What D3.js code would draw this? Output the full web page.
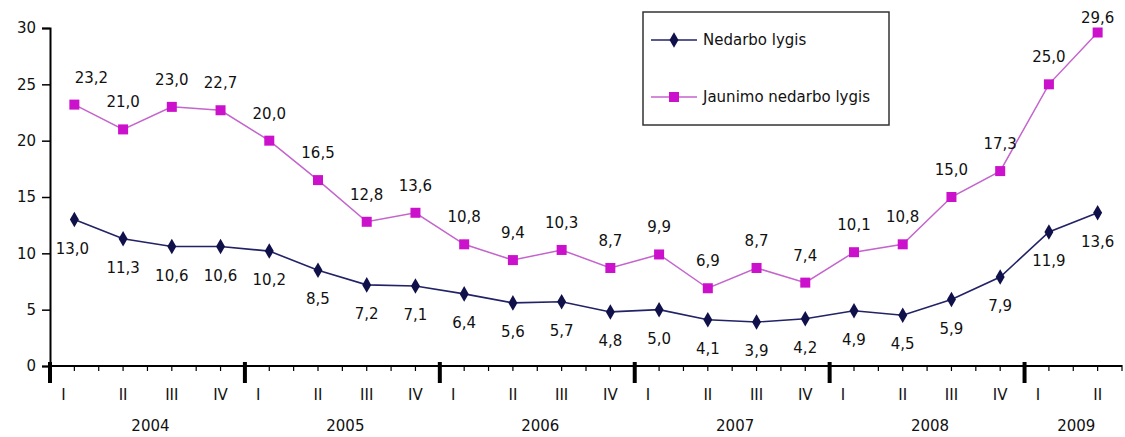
<!DOCTYPE html>
<html>
<head>
<meta charset="utf-8">
<script src="https://cdn.jsdelivr.net/npm/d3@7"></script>
<style>
  body { margin: 0; background: #fff; }
  svg { font-family: "DejaVu Sans", "Liberation Sans", Arial, sans-serif; }
</style>
</head>
<body>
<div id="chart"></div>
<script>
// Data
const years = ['2004', '2005', '2006', '2007', '2008', '2009'];
const quarters = [
  '2004-I','2004-II','2004-III','2004-IV',
  '2005-I','2005-II','2005-III','2005-IV',
  '2006-I','2006-II','2006-III','2006-IV',
  '2007-I','2007-II','2007-III','2007-IV',
  '2008-I','2008-II','2008-III','2008-IV',
  '2009-I','2009-II'
];
const nedarbo = [13.0, 11.3, 10.6, 10.6, 10.2, 8.5, 7.2, 7.1, 6.4, 5.6, 5.7, 4.8, 5.0, 4.1, 3.9, 4.2, 4.9, 4.5, 5.9, 7.9, 11.9, 13.6];
const jaunimo = [23.2, 21.0, 23.0, 22.7, 20.0, 16.5, 12.8, 13.6, 10.8, 9.4, 10.3, 8.7, 9.9, 6.9, 8.7, 7.4, 10.1, 10.8, 15.0, 17.3, 25.0, 29.6];
const yTicks = [0, 5, 10, 15, 20, 25, 30];
const seriesNames = ['Nedarbo lygis', 'Jaunimo nedarbo lygis'];

const width = 1125;
const height = 437;
const plotLeft = 50, plotRight = 1122, plotTop = 28, plotBottom = 366;

const svg = d3.select('#chart').append('svg')
  .attr('width', width)
  .attr('height', height);

// Scales
const x = d3.scaleBand().domain(quarters).range([plotLeft, plotRight]);
const cx = q => x(q) + x.bandwidth() / 2;
const y = d3.scaleLinear().domain([0, 30]).range([plotBottom, plotTop]);

// Y axis
const yAxis = d3.axisLeft(y).tickValues(yTicks).tickSize(8).tickFormat(d3.format('d'));
const gy = svg.append('g')
  .attr('transform', `translate(${plotLeft},0)`)
  .call(yAxis);
gy.select('.domain').attr('stroke', '#000').attr('stroke-width', 2);
gy.selectAll('.tick line').attr('stroke', '#000').attr('stroke-width', 1.5);
gy.selectAll('.tick text')
  .attr('font-size', 15).attr('fill', '#111').attr('x', -14)
  .attr('font-family', '"DejaVu Sans", sans-serif');

// X axis line
svg.append('line')
  .attr('x1', plotLeft).attr('x2', plotRight)
  .attr('y1', y(0)).attr('y2', y(0))
  .attr('stroke', '#000').attr('stroke-width', 2);

// minor ticks at band edges and centres
const halfTicks = [];
quarters.forEach(q => { halfTicks.push(x(q)); halfTicks.push(cx(q)); });
halfTicks.push(plotRight);
svg.selectAll('.minor')
  .data(halfTicks).enter()
  .append('line')
  .attr('x1', d => d).attr('x2', d => d)
  .attr('y1', y(0) - 1).attr('y2', y(0) + 5)
  .attr('stroke', '#000').attr('stroke-width', 1.2);

// year separators
const yearStarts = years.map(yr => x(yr + '-I'));
svg.selectAll('.major')
  .data(yearStarts).enter()
  .append('line')
  .attr('x1', d => d).attr('x2', d => d)
  .attr('y1', y(0) - 4).attr('y2', y(0) + 17)
  .attr('stroke', '#000').attr('stroke-width', 4);

// quarter labels
svg.selectAll('.qlabel')
  .data(quarters).enter()
  .append('text')
  .attr('x', d => cx(d) - (d.endsWith('-I') ? 11 : 0))
  .attr('y', y(0) + 34)
  .attr('text-anchor', 'middle')
  .attr('font-size', 15)
  .attr('fill', '#111')
  .text(d => d.split('-')[1]);

// year labels
svg.selectAll('.ylabel')
  .data(years).enter()
  .append('text')
  .attr('x', yr => {
    const qs = quarters.filter(q => q.startsWith(yr));
    return (x(qs[0]) + x(qs[qs.length - 1]) + x.bandwidth()) / 2 + 3;
  })
  .attr('y', y(0) + 65)
  .attr('text-anchor', 'middle')
  .attr('font-size', 15)
  .attr('fill', '#111')
  .text(d => d);

const fmt = v => d3.format('.1f')(v).replace('.', ',');

// Lines
const line = d3.line()
  .x((d, i) => cx(quarters[i]))
  .y(d => y(d));

svg.append('path')
  .attr('d', line(jaunimo))
  .attr('fill', 'none')
  .attr('stroke', '#c464cc')
  .attr('stroke-width', 1.5);

svg.append('path')
  .attr('d', line(nedarbo))
  .attr('fill', 'none')
  .attr('stroke', '#222266')
  .attr('stroke-width', 1.6);

// Markers
svg.selectAll('.sq')
  .data(jaunimo).enter()
  .append('rect')
  .attr('x', (d, i) => cx(quarters[i]) - 5)
  .attr('y', d => y(d) - 5)
  .attr('width', 10).attr('height', 10)
  .attr('fill', '#cc11cc');

const diamond = d3.symbol().type(d3.symbolDiamond).size(70);
svg.selectAll('.dm')
  .data(nedarbo).enter()
  .append('path')
  .attr('d', diamond)
  .attr('transform', (d, i) => `translate(${cx(quarters[i])},${y(d)})`)
  .attr('fill', '#10104a');

// Value labels
svg.selectAll('.jl')
  .data(jaunimo).enter()
  .append('text')
  .attr('x', (d, i) => cx(quarters[i]) + (i === 0 ? 17 : 0))
  .attr('y', d => Math.max(y(d) - 22, 23))
  .attr('text-anchor', 'middle')
  .attr('font-size', 15)
  .attr('fill', '#111')
  .text(fmt);

svg.selectAll('.nl')
  .data(nedarbo).enter()
  .append('text')
  .attr('x', (d, i) => cx(quarters[i]) - (i === 0 ? 2 : 0))
  .attr('y', d => y(d) + 34)
  .attr('text-anchor', 'middle')
  .attr('font-size', 15)
  .attr('fill', '#111')
  .text(fmt);

// Legend
const legend = svg.append('g').attr('transform', 'translate(643,12)');
legend.append('rect')
  .attr('width', 246).attr('height', 113)
  .attr('fill', '#fff')
  .attr('stroke', '#333').attr('stroke-width', 1.5);

const legendItems = [
  { name: seriesNames[0], color: '#222266', marker: 'diamond', fill: '#10104a', yPos: 28 },
  { name: seriesNames[1], color: '#c464cc', marker: 'square', fill: '#cc11cc', yPos: 85 }
];
legendItems.forEach(item => {
  const g = legend.append('g').attr('transform', `translate(0,${item.yPos})`);
  g.append('line')
    .attr('x1', 8).attr('x2', 54)
    .attr('stroke', item.color).attr('stroke-width', 1.6);
  if (item.marker === 'diamond') {
    g.append('path').attr('d', diamond).attr('transform', 'translate(31,0)').attr('fill', item.fill);
  } else {
    g.append('rect').attr('x', 26).attr('y', -5).attr('width', 10).attr('height', 10).attr('fill', item.fill);
  }
  g.append('text')
    .attr('x', 60).attr('y', 5)
    .attr('font-size', 15)
    .attr('fill', '#111')
    .text(item.name);
});
</script>
</body>
</html>
